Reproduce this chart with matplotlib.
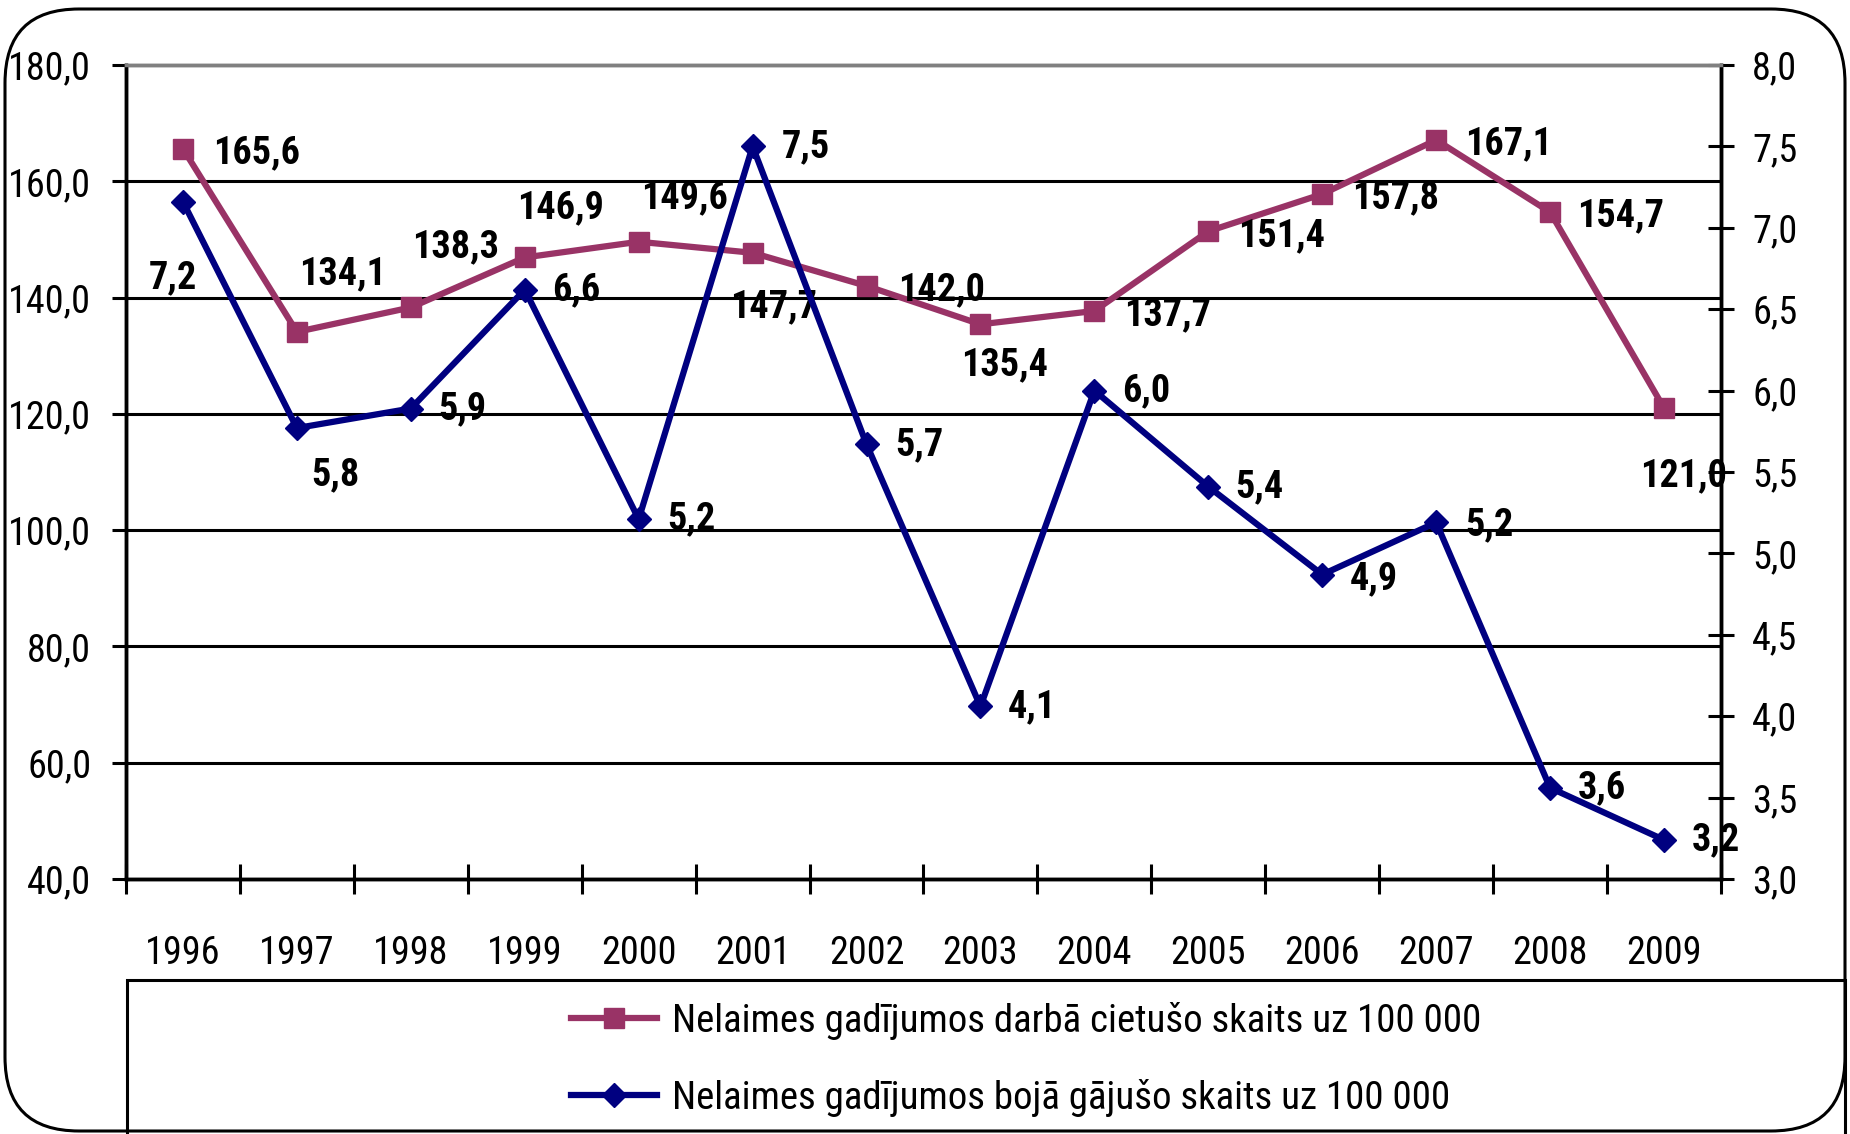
import matplotlib
matplotlib.use("Agg")
import matplotlib.pyplot as plt
import numpy as np
from matplotlib.lines import Line2D
from matplotlib.patches import FancyBboxPatch, Rectangle
from matplotlib.ticker import FuncFormatter

plt.rcParams['font.family'] = ['Roboto Condensed', 'PT Sans Narrow', 'Liberation Sans', 'DejaVu Sans']

years = ["1996", "1997", "1998", "1999", "2000", "2001", "2002",
         "2003", "2004", "2005", "2006", "2007", "2008", "2009"]
injured = [165.6, 134.1, 138.3, 146.9, 149.6, 147.7, 142.0,
           135.4, 137.7, 151.4, 157.8, 167.1, 154.7, 121.0]
killed = [7.16, 5.77, 5.89, 6.62, 5.21, 7.5, 5.67,
          4.06, 6.0, 5.41, 4.87, 5.19, 3.56, 3.24]

label_injured = "Nelaimes gadījumos darbā cietušo skaits uz 100 000"
label_killed = "Nelaimes gadījumos bojā gājušo skaits uz 100 000"

# label offsets in points (dx, dy)
off_injured = [(53, -3), (33, 42), (32, 44), (26, 36), (33, 32), (15, -39), (54, -3),
               (17, -29), (53, -3), (53, -3), (53, -3), (52, -3), (51, -3), (14, -49)]
off_killed = [(-7, -55), (28, -34), (37, 0), (37, 0), (38, 0), (38, 0), (38, 0),
              (37, 0), (37, 0), (37, 0), (37, -3), (38, -2), (37, 0), (37, 0)]

RED = "#993366"
BLUE = "#000080"

def comma(v, pos=None):
    return f"{v:.1f}".replace(".", ",")

fig = plt.figure(figsize=(18.5, 11.34), dpi=100)

# rounded outer frame
frame = FancyBboxPatch((5 / 1850, 3 / 1134), 1840 / 1850, 1122 / 1134,
                       boxstyle="round,pad=0,rounding_size=0.04",
                       transform=fig.transFigure, fill=False, lw=2.2,
                       ec="black", mutation_aspect=1850 / 1134)
fig.patches.append(frame)

ax = fig.add_axes([126 / 1850, 1 - 879 / 1134, (1721 - 126) / 1850, (879 - 65) / 1134])
ax2 = ax.twinx()

x = np.arange(len(years))

ax.plot(x, injured, color=RED, lw=4.5, marker="s", markersize=14.5, zorder=3)
ax2.plot(x, killed, color=BLUE, lw=4.5, marker="D", markersize=12, zorder=3)

ax.set_xlim(-0.5, len(years) - 0.5)
ax.set_ylim(40, 180)
ax2.set_ylim(3.0, 8.0)

ax.set_yticks(np.arange(40, 181, 20))
ax2.set_yticks(np.arange(3.0, 8.01, 0.5))
ax.yaxis.set_major_formatter(FuncFormatter(comma))
ax2.yaxis.set_major_formatter(FuncFormatter(comma))

ax.set_xticks(x)
ax.set_xticklabels(years)
ax.set_xticks(np.arange(-0.5, len(years), 1), minor=True)
ax.tick_params(axis="x", which="major", length=0, pad=40, labelsize=27.5)
ax.tick_params(axis="x", which="minor", direction="inout", length=22, width=2.2)
ax.tick_params(axis="y", direction="out", length=10, width=2.2, pad=15, labelsize=27.5)
ax2.tick_params(axis="y", direction="inout", length=19, width=2.2, pad=13, labelsize=27.5)

for v in np.arange(60, 161, 20):
    ax.axhline(v, color="black", lw=2.2, zorder=1)

for s in ["left", "bottom", "right"]:
    ax.spines[s].set_linewidth(2.5)
    ax2.spines[s].set_linewidth(2.5)
ax.spines["top"].set_color("#808080")
ax.spines["top"].set_linewidth(2.5)
ax2.spines["top"].set_color("#808080")
ax2.spines["top"].set_linewidth(2.5)

for i, v in enumerate(injured):
    ax.annotate(comma(v), (x[i], v), xytext=off_injured[i], textcoords="offset points",
                ha="center", va="center", fontsize=27.5, fontweight="bold",
                annotation_clip=False, zorder=10)
for i, v in enumerate(killed):
    ax2.annotate(comma(v), (x[i], v), xytext=off_killed[i], textcoords="offset points",
                 ha="center", va="center", fontsize=27.5, fontweight="bold",
                 annotation_clip=False, zorder=10)

# legend box (runs off the bottom of the image)
box = Rectangle((127 / 1850, -0.02), (1845 - 127) / 1850, 0.02 + 1 - 980 / 1134,
                transform=fig.transFigure, fill=False, lw=2.2, ec="black")
fig.patches.append(box)

handles = [
    Line2D([], [], color=RED, lw=4.5, marker="s", markersize=14.5),
    Line2D([], [], color=BLUE, lw=4.5, marker="D", markersize=12),
]
fig.legend(handles, [label_injured, label_killed], loc="upper left",
           bbox_to_anchor=(571 / 1850, 1 - 1002 / 1134), frameon=False,
           fontsize=28, handlelength=2.2, handletextpad=0.4, labelspacing=1.0,
           borderpad=0, borderaxespad=0)

fig.savefig("out.png", dpi=100)
